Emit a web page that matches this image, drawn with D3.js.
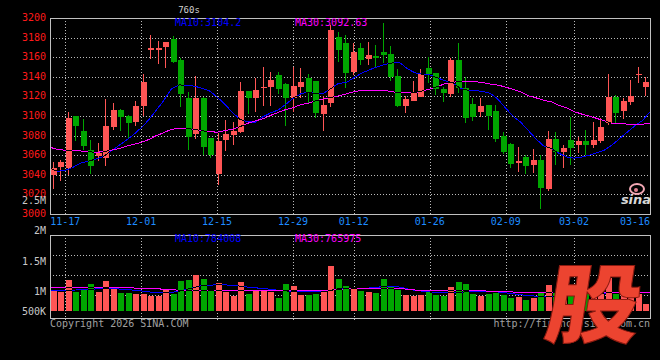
<!DOCTYPE html>
<html>
<head>
<meta charset="utf-8">
<script src="https://cdn.jsdelivr.net/npm/d3@7/dist/d3.min.js"></script>
<style>
body { margin: 0; background: #000; }
svg { display: block; }
text { font-family: "DejaVu Sans Mono", monospace; font-size: 10px; }
</style>
</head>
<body>
<div id="chart"></div>
<script>
// trading days shown (80 candles)
var dates = ["11-13","11-14","11-17","11-18","11-19","11-20","11-21","11-24","11-25","11-26",
	"11-27","11-28","12-01","12-02","12-03","12-04","12-05","12-08","12-09","12-10",
	"12-11","12-12","12-15","12-16","12-17","12-18","12-19","12-22","12-23","12-24",
	"12-25","12-26","12-29","12-30","12-31","01-05","01-06","01-07","01-08","01-09",
	"01-12","01-13","01-14","01-15","01-16","01-19","01-20","01-21","01-22","01-23",
	"01-26","01-27","01-28","01-29","01-30","02-02","02-03","02-04","02-05","02-06",
	"02-09","02-10","02-11","02-12","02-13","02-24","02-25","02-26","02-27","03-02",
	"03-03","03-04","03-05","03-06","03-09","03-10","03-11","03-12","03-13","03-16"];

var opens = [3040,3047.5,3047,3100,3084.7,3065.3,3059,3056.8,3089,3106,
	3100,3093.5,3110.5,3167,3167,3170.7,3178.6,3157,3118,3081.6,
	3118,3077.2,3040.5,3075.5,3080.6,3084,3125.5,3118.7,3128.5,3129.9,
	3141.8,3132.6,3118,3129.9,3139,3135.7,3102,3112.9,3181,3174,
	3145.2,3169,3158,3161.2,3165.6,3163.3,3140.8,3110.2,3115.3,3119.7,
	3148.7,3143.6,3127.2,3122.4,3157.1,3128.2,3112.2,3104.4,3111.2,3105.1,
	3079.9,3071.4,3052.4,3057.8,3050,3055.1,3026,3076.5,3063,3075.5,
	3070.4,3074.5,3070.4,3074.5,3092.5,3119.7,3105.4,3113.9,3141.8,3130];
var highs = [3053,3055,3104,3100,3096.6,3075.5,3072,3117,3113,3107,
	3101,3115,3142.5,3182.5,3177,3176,3182,3159,3124.8,3140.8,
	3119,3078,3083,3096,3094,3135,3126,3138.4,3150.3,3144.5,
	3145,3133.3,3150.3,3149.3,3142.5,3135.7,3120,3192.8,3186,3183,
	3174,3174,3175.5,3172,3195,3171,3148,3120.5,3135.7,3148,
	3160.5,3144,3129.5,3159.5,3174.1,3140,3118,3118,3111.2,3111.2,
	3084,3072.8,3068,3060.2,3066,3060.2,3084.7,3083.3,3070.4,3099.3,
	3079,3085.7,3093.5,3098.3,3142.5,3121.4,3118,3136.7,3149.6,3140];
var lows = [3025.5,3034,3040,3074.5,3065.3,3040.5,3054,3049.3,3085.7,3084.7,
	3076.5,3090,3100,3158,3153,3149,3154.4,3109.5,3065.3,3076.5,
	3060.2,3056.8,3030,3064.3,3070.4,3082.3,3101.7,3104.4,3110.5,3110.5,
	3122.4,3090.1,3104.4,3118,3113,3097.6,3085,3109.5,3155.4,3128.2,
	3141.8,3152,3152,3148.5,3154,3136,3109.5,3103.4,3115,3119,
	3133.4,3121.4,3114.6,3119.7,3123.8,3093.2,3094.9,3099.3,3085.7,3073.8,
	3060.9,3047.3,3043.2,3040.5,3042.2,3004.8,3023.8,3050,3047.3,3050,
	3062.6,3060.2,3067.7,3072.1,3090.8,3092.5,3096.6,3111.2,3133.3,3120.4];
var closes = [3046.6,3053.4,3098,3090,3069.7,3049.3,3062,3089.8,3106,3099.3,
	3093,3110.5,3135,3169.5,3169.5,3175.8,3155.4,3122.4,3079,3118,
	3068.7,3060.2,3074.5,3081.3,3085,3125.5,3118,3126.5,3129.2,3136.7,
	3127.5,3118,3131,3135,3123,3103.4,3111.2,3187.7,3167.3,3144.2,
	3165.6,3157,3162,3159,3162.2,3140.1,3110.2,3117.3,3124.8,3142.9,
	3142.9,3127.2,3123.2,3157.1,3128.2,3098.3,3099.3,3110.2,3100,3076.5,
	3063.6,3051,3054.1,3049.3,3055.1,3026.9,3076.5,3063,3067,3067,
	3074.5,3070.4,3075.5,3089.2,3119.7,3103.4,3115.3,3120.4,3143.2,3135];

var ma10 = [3046.6,3043.5,3044.5,3047.5,3051.8,3053.8,3056,3058.6,3064,3069.5,
	3075,3081,3088,3096,3106,3116,3128,3131.8,3131.2,3130.5,
	3128.3,3125.5,3119.5,3112,3104,3096.5,3094.3,3093.6,3099,3103,
	3106,3111.5,3118,3122.5,3124.5,3123,3123,3128,3133.4,3134,
	3139,3143.5,3147,3149.8,3152.5,3154,3154.8,3148.6,3144.2,3142.5,
	3142,3139,3136,3134,3128.3,3126.3,3125.8,3125.2,3123,3117,
	3108,3099.5,3093.5,3085,3076.5,3069.5,3066.8,3062,3058.3,3057,
	3058,3060,3062.6,3065.2,3070.4,3077,3083.5,3090,3095.3,3104.2];
var ma30 = [3068,3066,3065,3064.5,3064.3,3063.5,3063,3063.5,3065,3066.5,
	3069,3071,3073,3076,3080,3083,3086.5,3087.2,3087,3086.5,
	3085,3084,3083.5,3085,3086.5,3089,3092.5,3095,3097,3100.5,
	3103.5,3106.5,3108.5,3111.5,3113,3115.5,3117.5,3119,3120.5,3122.5,
	3124.8,3126,3126.5,3126.5,3126,3125,3123.5,3123.5,3123.5,3125.5,
	3127.5,3130,3133,3134.5,3135,3135,3135,3134,3132.6,3131.5,
	3129.5,3127,3124.5,3120.5,3118.5,3116,3114.5,3111,3108.5,3104.5,
	3102,3100,3097.5,3095,3092.5,3092,3091.8,3091.7,3091.6,3092.63];

var volumes = [810000,785000,1270000,785000,855000,1100000,785000,1230000,900000,740000,
	740000,690000,690000,600000,600000,855000,690000,1230000,1270000,1480000,
	1310000,860000,1160000,785000,610000,1200000,690000,830000,820000,785000,
	540000,1100000,1020000,650000,650000,690000,810000,1860000,1310000,1050000,
	950000,830000,785000,740000,1310000,990000,855000,650000,630000,650000,
	785000,650000,620000,990000,1190000,1100000,690000,620000,700000,740000,
	650000,540000,570000,440000,540000,740000,1090000,800000,700000,1030000,
	750000,800000,850000,950000,1350000,720000,780000,600000,720000,280000];
var volMa10 = [860000,845000,850000,860000,880000,900000,910000,920000,920000,910000,
	890000,860000,830000,790000,760000,760000,770000,820000,900000,970000,
	1050000,1070000,1080000,1080000,1060000,1030000,990000,960000,930000,900000,
	860000,830000,810000,800000,790000,790000,800000,860000,920000,930000,
	930000,930000,950000,980000,1010000,1010000,990000,920000,850000,820000,
	785000,770000,760000,765000,780000,790000,800000,810000,800000,785000,
	750000,710000,670000,640000,610000,590000,600000,620000,640000,670000,
	690000,710000,720000,740000,760000,770000,780000,785000,785000,784008];
var volMa30 = [970000,970000,970000,970000,960000,960000,960000,960000,960000,960000,
	960000,950000,950000,940000,920000,900000,880000,860000,855000,855000,
	860000,865000,860000,855000,855000,855000,855000,855000,855000,855000,
	850000,840000,830000,830000,830000,835000,840000,860000,890000,920000,
	930000,940000,945000,950000,950000,940000,930000,900000,870000,845000,
	830000,830000,830000,830000,830000,830000,830000,830000,820000,810000,
	800000,785000,785000,785000,785000,785000,785000,785000,785000,785000,
	785000,780000,780000,780000,780000,780000,780000,775000,770000,765975];

var priceTicks = [3000,3020,3040,3060,3080,3100,3120,3140,3160,3180,3200];
var volTicks = [500000,1000000,1500000,2000000,2500000];
var volTickLabels = ["500K","1M","1.5M","2M","2.5M"];
var dateTicks = ["11-17","12-01","12-15","12-29","01-12","01-26","02-09","03-02","03-16"];
var priceMaText = ["MA10:3104.2","MA30:3092.63"];
var volMaText = ["MA10:784008","MA30:765975"];

var upColor = "#ff5555", downColor = "#00a600";
var ma10Color = "#0000ff", ma30Color = "#ff00ff";
var gridColor = "#bcbcbc";
var width = 660, height = 360;
var plotLeft = 50, plotRight = 650, plotTop = 18, plotBottom = 214;
var vTop = 235, vBottom = 318;

var svg = d3.select("#chart").append("svg")
	.attr("width", width)
	.attr("height", height)
	.style("background", "#000");

var n = dates.length;
// candles sit in n equal slots, the MA lines and date grid run point to point
var slotX = d3.scaleLinear().domain([0, n]).range([plotLeft + 0.5, plotRight + 0.5]);
var gridX = d3.scaleLinear().domain([0, n - 1]).range([plotLeft, plotRight]);
var yP = d3.scaleLinear().domain([3000, 3200]).range([plotBottom, plotTop]);
var yV = d3.scaleLinear().domain([0, 1000000]).range([311, 286.8]);
var yVLabel = d3.scaleLinear().domain([500000, 1000000, 2500000]).range([315, 295, 204]);
var vGrid = d3.scaleLinear().domain([0, 4]).range([vTop, 315]);

var idx = d3.range(n);
var bodyLeft = function(i) { return Math.round(slotX(i)); };

// grid
var grid = svg.append("g")
	.attr("stroke", gridColor)
	.attr("stroke-dasharray", "1,2")
	.attr("shape-rendering", "crispEdges");

grid.selectAll("line.h")
	.data(priceTicks.slice(1, -1))
	.enter().append("line")
	.attr("x1", plotLeft).attr("x2", plotRight)
	.attr("y1", function(d) { return Math.round(yP(d)) + 0.5; })
	.attr("y2", function(d) { return Math.round(yP(d)) + 0.5; });

grid.selectAll("line.vh")
	.data([1, 2, 3])
	.enter().append("line")
	.attr("x1", plotLeft).attr("x2", plotRight)
	.attr("y1", function(d) { return vGrid(d) + 0.5; })
	.attr("y2", function(d) { return vGrid(d) + 0.5; });

var tickIdx = dateTicks.map(function(d) { return dates.indexOf(d); });
var innerTicks = tickIdx.filter(function(i) { return i < n - 1; });

grid.selectAll("line.v1")
	.data(innerTicks)
	.enter().append("line")
	.attr("x1", function(i) { return Math.round(gridX(i)) + 0.5; })
	.attr("x2", function(i) { return Math.round(gridX(i)) + 0.5; })
	.attr("y1", plotTop).attr("y2", plotBottom);

grid.selectAll("line.v2")
	.data(innerTicks)
	.enter().append("line")
	.attr("x1", function(i) { return Math.round(gridX(i)) + 0.5; })
	.attr("x2", function(i) { return Math.round(gridX(i)) + 0.5; })
	.attr("y1", vTop).attr("y2", 320);

// candles
var isUp = function(i) { return closes[i] >= opens[i]; };
var bodyTop = function(i) { return Math.round(yP(Math.max(opens[i], closes[i]))); };
var bodyH = function(i) { return Math.max(1, Math.round(yP(Math.min(opens[i], closes[i]))) - bodyTop(i)); };

var candles = svg.append("g").attr("shape-rendering", "crispEdges");
candles.selectAll("rect.wick")
	.data(idx)
	.enter().append("rect")
	.attr("x", function(i) { return bodyLeft(i) + 2; })
	.attr("y", function(i) { return Math.round(yP(highs[i])); })
	.attr("width", 1)
	.attr("height", function(i) { return Math.max(1, Math.round(yP(lows[i])) - Math.round(yP(highs[i]))); })
	.attr("fill", function(i) { return isUp(i) ? upColor : downColor; });
candles.selectAll("rect.body")
	.data(idx)
	.enter().append("rect")
	.attr("x", bodyLeft)
	.attr("y", bodyTop)
	.attr("width", 6)
	.attr("height", bodyH)
	.attr("fill", function(i) { return isUp(i) ? upColor : downColor; });

// volume bars
var vols = svg.append("g").attr("shape-rendering", "crispEdges");
vols.selectAll("rect")
	.data(idx)
	.enter().append("rect")
	.attr("x", bodyLeft)
	.attr("y", function(i) { return Math.round(yV(volumes[i])); })
	.attr("width", 6)
	.attr("height", function(i) { return Math.round(yV(0)) - Math.round(yV(volumes[i])); })
	.attr("fill", function(i) { return isUp(i) ? upColor : downColor; });

// clip shapes so the MA lines turn dark where they cross a body or bar
var defs = svg.append("defs");
defs.append("clipPath").attr("id", "bodyClip")
	.selectAll("rect").data(idx).enter().append("rect")
	.attr("x", bodyLeft).attr("y", bodyTop).attr("width", 6).attr("height", bodyH);
defs.append("clipPath").attr("id", "barClip")
	.selectAll("rect").data(idx).enter().append("rect")
	.attr("x", bodyLeft)
	.attr("y", function(i) { return Math.round(yV(volumes[i])); })
	.attr("width", 6)
	.attr("height", function(i) { return Math.round(yV(0)) - Math.round(yV(volumes[i])); });

var priceLine = function(arr) {
	return d3.line().x(function(i) { return gridX(i); }).y(function(i) { return yP(arr[i]); })(idx);
};
var volLine = function(arr) {
	return d3.line().x(function(i) { return gridX(i); }).y(function(i) { return yV(arr[i]); })(idx);
};

var lines = [
	{ d: priceLine(ma10), color: ma10Color, clip: "bodyClip" },
	{ d: priceLine(ma30), color: ma30Color, clip: "bodyClip" },
	{ d: volLine(volMa10), color: ma10Color, clip: "barClip" },
	{ d: volLine(volMa30), color: ma30Color, clip: "barClip" }
];
lines.forEach(function(l) {
	svg.append("path").attr("d", l.d)
		.attr("fill", "none").attr("stroke", l.color).attr("stroke-width", 1)
		.attr("shape-rendering", "crispEdges");
	svg.append("path").attr("d", l.d)
		.attr("clip-path", "url(#" + l.clip + ")")
		.attr("fill", "none").attr("stroke", "#000").attr("stroke-width", 1)
		.attr("shape-rendering", "crispEdges");
});

// frames
svg.append("rect").attr("x", plotLeft + 0.5).attr("y", plotTop + 0.5)
	.attr("width", plotRight - plotLeft).attr("height", plotBottom - plotTop)
	.attr("fill", "none").attr("stroke", "#c0c0c0").attr("shape-rendering", "crispEdges");
svg.append("rect").attr("x", plotLeft + 0.5).attr("y", vTop + 0.5)
	.attr("width", plotRight - plotLeft).attr("height", vBottom - vTop)
	.attr("fill", "none").attr("stroke", "#c0c0c0").attr("shape-rendering", "crispEdges");

// axis labels
svg.selectAll("text.price")
	.data(priceTicks)
	.enter().append("text")
	.attr("x", 46)
	.attr("y", function(d) { return yP(d) + 3; })
	.attr("text-anchor", "end")
	.attr("fill", "#ff1a1a")
	.text(function(d) { return d; });

svg.selectAll("text.vol")
	.data(volTicks)
	.enter().append("text")
	.attr("x", 46)
	.attr("y", function(d) { return yVLabel(d); })
	.attr("text-anchor", "end")
	.attr("fill", "#c8c8c8")
	.text(function(d, i) { return volTickLabels[i]; });

svg.selectAll("text.date")
	.data(tickIdx)
	.enter().append("text")
	.attr("x", function(i) { return Math.min(gridX(i), plotRight - 15); })
	.attr("y", 225)
	.attr("text-anchor", "middle")
	.attr("fill", "#1e8cff")
	.text(function(i) { return dates[i]; });

// MA captions
svg.append("text").attr("x", 175).attr("y", 26).attr("fill", ma10Color).text(priceMaText[0]);
svg.append("text").attr("x", 295).attr("y", 26).attr("fill", ma30Color).text(priceMaText[1]);
svg.append("text").attr("x", 175).attr("y", 242).attr("fill", ma10Color).text(volMaText[0]);
svg.append("text").attr("x", 295).attr("y", 242).attr("fill", ma30Color).text(volMaText[1]);

// title and footer
svg.append("text").attr("x", 189).attr("y", 13).attr("text-anchor", "middle")
	.attr("fill", "#d0d0d0").style("font-size", "9px").text("760s");
svg.append("text").attr("x", 50).attr("y", 327).attr("fill", "#a0a0a0").text("Copyright 2026 SINA.COM");
svg.append("text").attr("x", 650).attr("y", 327).attr("text-anchor", "end").attr("fill", "#a0a0a0").text("http://finance.sina.com.cn");

// sina watermark
var wm = svg.append("g");
wm.append("ellipse").attr("cx", 637).attr("cy", 189).attr("rx", 7).attr("ry", 5)
	.attr("fill", "none").attr("stroke", "#f2a7b4").attr("stroke-width", 2);
wm.append("circle").attr("cx", 636).attr("cy", 190).attr("r", 2).attr("fill", "#e08090");
wm.append("text").attr("x", 636).attr("y", 204).attr("text-anchor", "middle")
	.attr("fill", "#d8d8d8").style("font-family", "'DejaVu Sans', sans-serif")
	.style("font-size", "13px").style("font-weight", "bold").style("font-style", "italic")
	.text("sina");

// big stock mark
svg.append("text")
	.attr("transform", "translate(542,336) scale(1.1,1.0) skewX(-8)")
	.attr("fill", "#ec4430")
	.attr("stroke", "#8a1a10").attr("stroke-width", 1)
	.style("font-family", "'Noto Sans CJK SC', sans-serif")
	.style("font-size", "86px").style("font-weight", "900")
	.text("股");
</script>
</body>
</html>
